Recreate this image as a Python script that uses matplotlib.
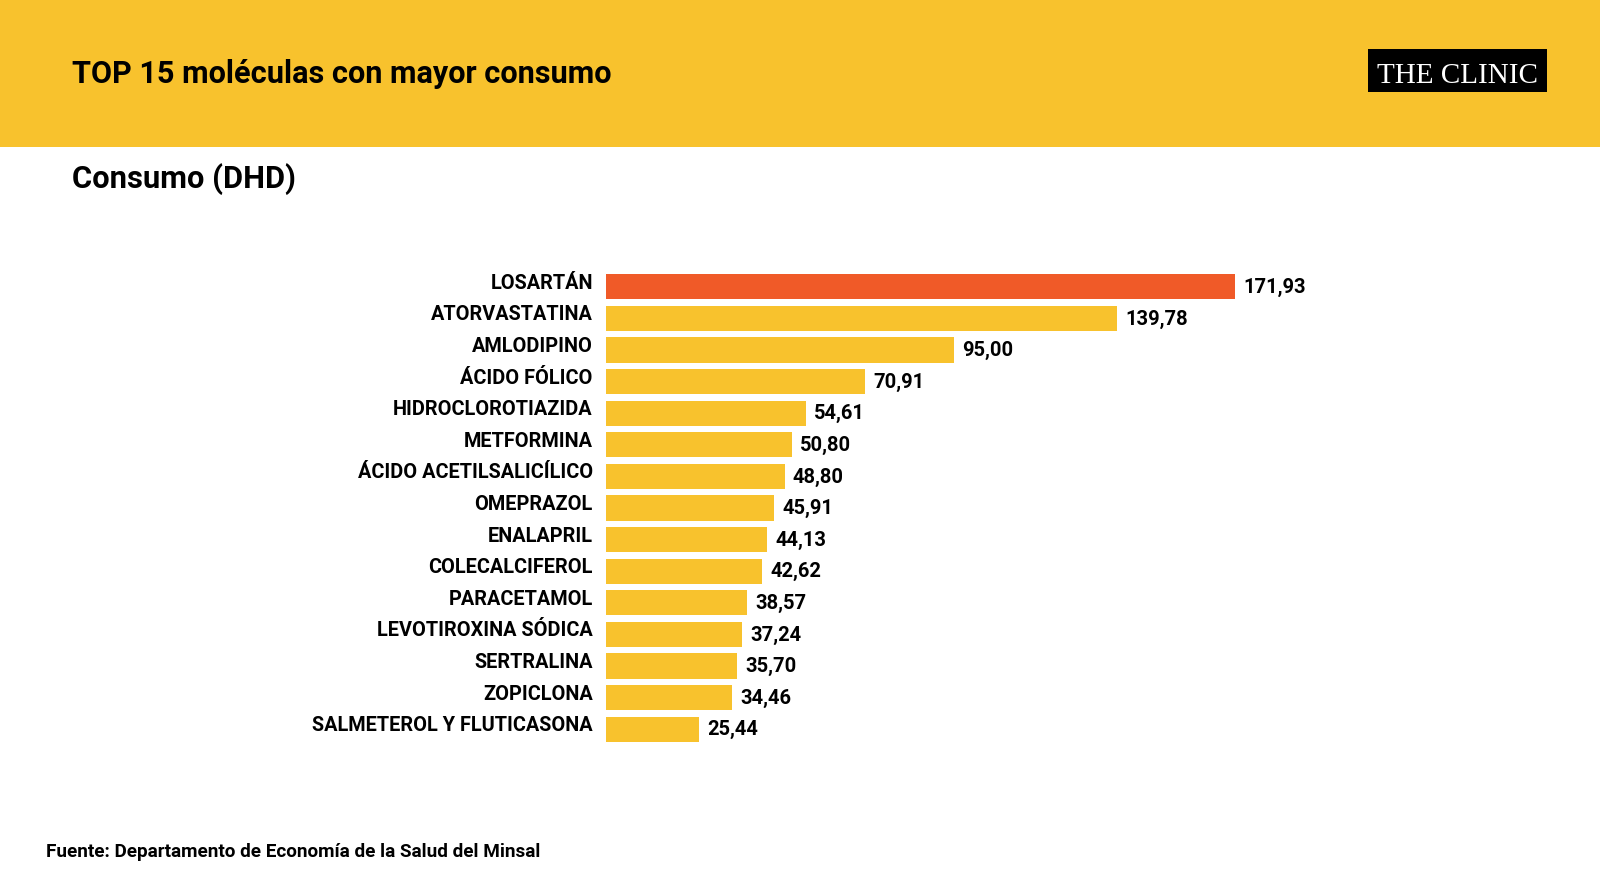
import matplotlib.pyplot as plt
from matplotlib.patches import Rectangle

# Datos
moleculas = ['LOSARTÁN', 'ATORVASTATINA', 'AMLODIPINO', 'ÁCIDO FÓLICO',
             'HIDROCLOROTIAZIDA', 'METFORMINA', 'ÁCIDO ACETILSALICÍLICO',
             'OMEPRAZOL', 'ENALAPRIL', 'COLECALCIFEROL', 'PARACETAMOL',
             'LEVOTIROXINA SÓDICA', 'SERTRALINA', 'ZOPICLONA',
             'SALMETEROL Y FLUTICASONA']
consumo = [171.93, 139.78, 95.00, 70.91, 54.61, 50.80, 48.80, 45.91,
           44.13, 42.62, 38.57, 37.24, 35.70, 34.46, 25.44]

titulo = 'TOP 15 moléculas con mayor consumo'
subtitulo = 'Consumo (DHD)'
fuente = 'Fuente: Departamento de Economía de la Salud del Minsal'

amarillo = '#F8C22D'
naranjo = '#F05A28'

plt.rcParams['font.family'] = ['Roboto', 'DejaVu Sans']

W, H = 1600, 892
fig = plt.figure(figsize=(W / 100, H / 100), dpi=100)
fig.patch.set_facecolor('white')

# Banda superior
fig.patches.append(Rectangle((0, 1 - 147 / H), 1, 147 / H, transform=fig.transFigure,
                             facecolor=amarillo, edgecolor='none', zorder=0))
fig.text(72 / W, 1 - 74 / H, titulo, fontsize=22.1, fontweight='bold',
         va='center', ha='left', color='black')

# Logo
fig.patches.append(Rectangle((1368 / W, 1 - 92 / H), (1547 - 1368) / W, 43 / H,
                             transform=fig.transFigure, facecolor='black',
                             edgecolor='none', zorder=1))
fig.text((1368 + 1547) / 2 / W, 1 - 73 / H, 'THE CLINIC', fontsize=21,
         family='Liberation Serif', color='white', ha='center', va='center_baseline',
         zorder=2)

fig.text(72 / W, 1 - 179 / H, subtitulo, fontsize=22.2, fontweight='bold',
         va='center', ha='left', color='black')

# Barras
ax = fig.add_axes([606 / W, 1 - 745 / H, (1500 - 606) / W, (745 - 271) / H])
y = list(range(len(moleculas)))
colores = [naranjo] + [amarillo] * (len(moleculas) - 1)
ax.barh(y, consumo, height=0.8, color=colores)
ax.set_xlim(0, 894 / 3.658)
ax.set_ylim(len(moleculas) - 0.5, -0.5)
ax.set_yticks([])
ax.set_xticks([])
for s in ax.spines.values():
    s.set_visible(False)

for i, nombre in enumerate(moleculas):
    ax.annotate(nombre, xy=(0, i), xytext=(-9.5, 2.5), textcoords='offset points',
                va='center', ha='right', fontsize=14.3, fontweight='bold',
                annotation_clip=False)

for i, v in enumerate(consumo):
    ax.annotate(f'{v:.2f}'.replace('.', ','), xy=(v, i), xytext=(6, -0.5),
                textcoords='offset points', va='center', ha='left',
                fontsize=14.5, fontweight='bold')

fig.text(46 / W, 1 - 852 / H, fuente, fontsize=13.6, fontweight='bold',
         va='center', ha='left', color='black')

fig.savefig('out.png', dpi=100)
